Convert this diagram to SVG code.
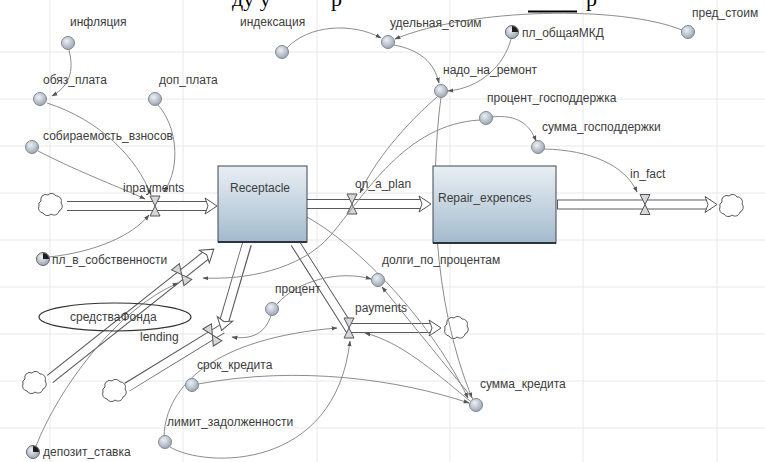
<svg xmlns="http://www.w3.org/2000/svg" width="765" height="462" viewBox="0 0 765 462">
<defs>
<style>
.lbl{font-family:"Liberation Sans","Open Sans",sans-serif;font-size:12px;fill:#3c3c3c}
.frag{font-family:"Liberation Serif",serif;font-size:22px;fill:#000}
.lnk{fill:none;stroke:#8c8c8c;stroke-width:1;marker-end:url(#ah)}
.grid line{stroke:#e8e8e8;stroke-width:1}
.po{stroke:#5a5a5a;stroke-width:10;fill:none;stroke-linejoin:miter}
.pi{stroke:#fff;stroke-width:8;fill:none;stroke-linejoin:miter}
.aux{fill:url(#gA);stroke:#7f8995;stroke-width:1}
.cloud{fill:#fff;stroke:#555;stroke-width:1}
.valve{fill:#d4d8dc;stroke:#555;stroke-width:1}
.chev{fill:#fff;stroke:#555;stroke-width:1}
.stock{fill:url(#gS);stroke:#3e4650;stroke-width:1}
</style>
<radialGradient id="gA" cx="0.4" cy="0.35" r="0.7"><stop offset="0" stop-color="#eef1f5"/><stop offset="1" stop-color="#95a1af"/></radialGradient>
<linearGradient id="gS" x1="0" y1="0" x2="0" y2="1"><stop offset="0" stop-color="#e9eff4"/><stop offset="1" stop-color="#a3bacd"/></linearGradient>
<marker id="ah" viewBox="0 0 10 10" refX="9" refY="5" markerWidth="6" markerHeight="6" orient="auto"><path d="M0,1.5 L10,5 L0,8.5 z" fill="#555"/></marker>
<path id="cl" d="M-10,-4 a5,5 0 0 1 7,-6 a5,5 0 0 1 8,1 a5,5 0 0 1 5,7 a5,5 0 0 1 -2,8 a5,5 0 0 1 -8,3 a5,5 0 0 1 -8,-1 a5,5 0 0 1 -4,-7 a4,4 0 0 1 2,-5 z"/>
<path id="vl" d="M-5,-10 H5 L0,0 L5,10 H-5 L0,0 Z"/>
<g id="sv"><circle r="6.5" fill="url(#gA)" stroke="#666"/><path d="M0,0 L0,-6 A6,6 0 0 1 6,0 Z" fill="#1e1e1e"/></g>
</defs>
<rect width="765" height="462" fill="#fff"/>
<g class="grid">
<line x1="50" y1="0" x2="50" y2="462"/><line x1="183" y1="0" x2="183" y2="462"/><line x1="317" y1="0" x2="317" y2="462"/><line x1="450" y1="0" x2="450" y2="462"/><line x1="583" y1="0" x2="583" y2="462"/><line x1="717" y1="0" x2="717" y2="462"/>
<line x1="0" y1="52" x2="765" y2="52"/><line x1="0" y1="99" x2="765" y2="99"/><line x1="0" y1="146" x2="765" y2="146"/><line x1="0" y1="193" x2="765" y2="193"/><line x1="0" y1="240" x2="765" y2="240"/><line x1="0" y1="287" x2="765" y2="287"/><line x1="0" y1="334" x2="765" y2="334"/><line x1="0" y1="381" x2="765" y2="381"/><line x1="0" y1="428" x2="765" y2="428"/>
</g>
<g id="page-fragment">
<text class="frag" x="232" y="6">ду у</text>
<text class="frag" x="331" y="6">р</text>
<line x1="528" y1="11.5" x2="577" y2="11.5" stroke="#000" stroke-width="2"/>
<text class="frag" x="586" y="6">р</text>
</g>

<g id="pipes">
<line class="po" x1="67" y1="206" x2="210" y2="206"/><line class="pi" x1="66" y1="206" x2="211" y2="206"/>
<polygon class="chev" points="205,198 217,206 205,214 208,206"/>
<use href="#vl" class="valve" x="155" y="206"/>
<line class="po" x1="307" y1="204" x2="425" y2="204"/><line class="pi" x1="306" y1="204" x2="426" y2="204"/>
<polygon class="chev" points="419,196 431,204 419,212 422,204"/>
<use href="#vl" class="valve" x="352" y="204"/>
<line class="po" x1="557" y1="204.5" x2="711" y2="204.5"/><line class="pi" x1="558" y1="204.5" x2="712" y2="204.5"/>
<polygon class="chev" points="705,196.5 717,204.5 705,212.5 708,204.5"/>
<use href="#vl" class="valve" x="645" y="204.5"/>
<g transform="translate(50,379) rotate(-38.4)">
<line class="po" x1="0" y1="0" x2="202" y2="0"/><line class="pi" x1="-1" y1="0" x2="203" y2="0"/>
<polygon class="chev" points="197,-8 209,0 197,8 200,0"/>
<use href="#vl" class="valve" x="168" y="0"/>
</g>
<line class="po" x1="127" y1="387" x2="222" y2="329"/>
<line class="po" x1="247" y1="244" x2="224" y2="322"/>
<line class="pi" x1="126" y1="388" x2="222" y2="329"/>
<line class="pi" x1="247" y1="243" x2="224" y2="322"/>
<g transform="translate(247,244) rotate(106.4)"><polygon class="chev" points="78,-8 90,0 78,8 81,0"/></g>
<g transform="translate(127,387) rotate(-31.4)"><use href="#vl" class="valve" x="100" y="0"/></g>
<polyline class="po" points="295,243 349,328 435,328"/><polyline class="pi" points="294.5,242 349,328 436,328"/>
<polygon class="chev" points="429,320 441,328 429,336 432,328"/>
<use href="#vl" class="valve" x="349" y="328"/>
<use href="#cl" class="cloud" x="51" y="205"/>
<use href="#cl" class="cloud" x="732" y="206"/>
<use href="#cl" class="cloud" x="35" y="383"/>
<use href="#cl" class="cloud" x="115" y="391"/>
<use href="#cl" class="cloud" x="457" y="328"/>
</g>

<g id="connectors">
<path class="lnk" d="M69,50 C73,66 73,84 52,96"/>
<path class="lnk" d="M47,103 C100,120 137,158 151,195"/>
<path class="lnk" d="M158,105 C176,125 182,165 164,192"/>
<path class="lnk" d="M38,151 C85,175 120,187 145,199"/>
<path class="lnk" d="M49,257 C95,252 132,236 149,215"/>
<path class="lnk" d="M287,48 C308,25 352,22 381,38"/>
<path class="lnk" d="M682,30 C620,5 470,8 395,39"/>
<path class="lnk" d="M394,45 C420,50 434,62 439,83"/>
<path class="lnk" d="M511,39 C504,66 480,88 448,91"/>
<path class="lnk" d="M437,97 C405,125 375,160 360,193"/>
<path class="lnk" d="M441,97 C430,180 432,300 472,398"/>
<path class="lnk" d="M480,120 C405,124 365,195 330,236 C300,270 245,280 203,278"/>
<path class="lnk" d="M491,117 C518,114 530,125 536,141"/>
<path class="lnk" d="M544,149 C590,150 625,165 637,192"/>
<path class="lnk" d="M305,216 C350,240 425,310 468,398"/>
<path class="lnk" d="M277,304 C298,280 340,270 371,279"/>
<path class="lnk" d="M271,315 C266,333 252,340 232,337"/>
<path class="lnk" d="M473,399 L382,287"/>
<path class="lnk" d="M470,401 C430,368 400,342 365,333"/>
<path class="lnk" d="M198,384 C300,365 400,380 469,403"/>
<path class="lnk" d="M164,436 C166,385 215,338 337,328"/>
<path class="lnk" d="M170,447 C205,468 335,472 350,341"/>
<path class="lnk" d="M36,446 C58,390 115,310 178,283"/>
</g>

<g id="Receptacle"><rect class="stock" x="218" y="166" width="89" height="76"/><line x1="218" y1="242" x2="307" y2="242" stroke="#2e343b" stroke-width="2"/><text class="lbl" x="230" y="192">Receptacle</text></g>
<g id="Repair_expences"><rect class="stock" x="433" y="166" width="123" height="77"/><line x1="433" y1="243" x2="556" y2="243" stroke="#2e343b" stroke-width="2"/><text class="lbl" x="438" y="202">Repair_expences</text></g>

<g id="inpayments"><text class="lbl" x="123" y="192">inpayments</text></g>
<g id="on_a_plan"><text class="lbl" x="355" y="188">on_a_plan</text></g>
<g id="in_fact"><text class="lbl" x="630" y="178">in_fact</text></g>
<g id="payments"><text class="lbl" x="355" y="312">payments</text></g>
<g id="lending"><text class="lbl" x="140" y="341">lending</text></g>
<g id="sredstvaFonda"><ellipse cx="115" cy="317" rx="76" ry="14" fill="none" stroke="#333" stroke-width="1.2"/><text class="lbl" x="70" y="321">средстваФонда</text></g>

<g id="inflyaciya"><circle class="aux" cx="68" cy="43" r="6.5"/><text class="lbl" x="70" y="26">инфляция</text></g>
<g id="obyaz_plata"><circle class="aux" cx="40" cy="99" r="6.5"/><text class="lbl" x="43" y="84">обяз_плата</text></g>
<g id="dop_plata"><circle class="aux" cx="155" cy="99" r="6.5"/><text class="lbl" x="159" y="84">доп_плата</text></g>
<g id="sobiraemost"><circle class="aux" cx="32" cy="147" r="6.5"/><text class="lbl" x="43" y="140">собираемость_взносов</text></g>
<g id="indeksaciya"><circle class="aux" cx="282" cy="52" r="6.5"/><text class="lbl" x="240" y="26">индексация</text></g>
<g id="udelnaya_stoim"><circle class="aux" cx="388" cy="42" r="6.5"/><text class="lbl" x="390" y="27">удельная_стоим</text></g>
<g id="pl_obshayaMKD"><use href="#sv" x="512" y="32"/><text class="lbl" x="522" y="37">пл_общаяМКД</text></g>
<g id="pred_stoim"><circle class="aux" cx="688" cy="32" r="6.5"/><text class="lbl" x="692" y="17">пред_стоим</text></g>
<g id="nado_na_remont"><circle class="aux" cx="441" cy="91" r="6.5"/><text class="lbl" x="443" y="74">надо_на_ремонт</text></g>
<g id="procent_gospodderzhka"><circle class="aux" cx="486" cy="118" r="6.5"/><text class="lbl" x="487" y="102">процент_господдержка</text></g>
<g id="summa_gospodderzhki"><circle class="aux" cx="538" cy="147" r="6.5"/><text class="lbl" x="542" y="131">сумма_господдержки</text></g>
<g id="pl_v_sobstvennosti"><use href="#sv" x="43" y="259"/><text class="lbl" x="52" y="264">пл_в_собственности</text></g>
<g id="dolgi_po_procentam"><circle class="aux" cx="378" cy="280" r="6.5"/><text class="lbl" x="382" y="264">долги_по_процентам</text></g>
<g id="procent"><circle class="aux" cx="272" cy="309" r="6.5"/><text class="lbl" x="275" y="293">процент</text></g>
<g id="srok_kredita"><circle class="aux" cx="192" cy="385" r="6.5"/><text class="lbl" x="197" y="369">срок_кредита</text></g>
<g id="summa_kredita"><circle class="aux" cx="476" cy="405" r="6.5"/><text class="lbl" x="480" y="388">сумма_кредита</text></g>
<g id="limit_zadolzhennosti"><circle class="aux" cx="165" cy="442" r="6.5"/><text class="lbl" x="167" y="426">лимит_задолженности</text></g>
<g id="depozit_stavka"><use href="#sv" x="33" y="452"/><text class="lbl" x="43" y="456">депозит_ставка</text></g>
</svg>
